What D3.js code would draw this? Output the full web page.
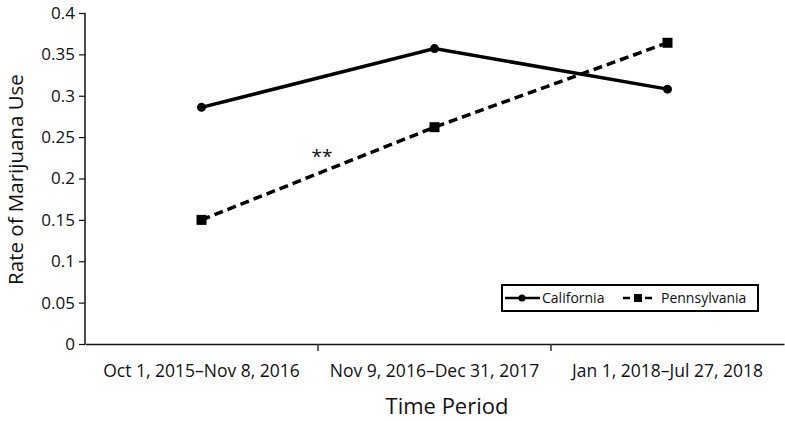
<!DOCTYPE html>
<html>
<head>
<meta charset="utf-8">
<script src="https://cdn.jsdelivr.net/npm/d3@7"></script>
<style>
body { margin: 0; background: #fff; }
text { font-family: "Open Sans", "Noto Sans", sans-serif; fill: #111; }
</style>
</head>
<body>
<div class="chart"></div>
<script>
const periods = ['Oct 1, 2015\u2013Nov 8, 2016', 'Nov 9, 2016\u2013Dec 31, 2017', 'Jan 1, 2018\u2013Jul 27, 2018'];
const california = [0.286, 0.357, 0.308];
const pennsylvania = [0.150, 0.262, 0.364];
const yTicks = [0, 0.05, 0.1, 0.15, 0.2, 0.25, 0.3, 0.35, 0.4];

const width = 785;
const height = 421;
const margin = {left: 85, right: 1, top: 13, bottom: 77};

const svg = d3.select('.chart')
	.append('svg')
	.attr('width', width)
	.attr('height', height);

const x = d3.scaleBand()
	.domain(periods)
	.range([margin.left, width - margin.right]);

const y = d3.scaleLinear()
	.domain([0, 0.4])
	.range([height - margin.bottom, margin.top]);

// axes
const xAxis = svg.append('g')
	.attr('transform', 'translate(0,' + y(0) + ')')
	.call(d3.axisBottom(x).tickSize(0).tickPadding(21));
xAxis.select('.domain').attr('stroke', '#111').attr('stroke-width', 1.5);
xAxis.selectAll('text').attr('font-size', '17.5px');

// tick marks between categories
svg.selectAll('.xtick')
	.data(periods.slice(0, -1))
	.enter()
	.append('line')
	.attr('class', 'xtick')
	.attr('x1', d => x(d) + x.bandwidth())
	.attr('x2', d => x(d) + x.bandwidth())
	.attr('y1', y(0))
	.attr('y2', y(0) + 7)
	.attr('stroke', '#333')
	.attr('stroke-width', 1.5);

const yAxis = svg.append('g')
	.attr('transform', 'translate(' + margin.left + ',0)')
	.call(d3.axisLeft(y).tickValues(yTicks).tickSize(6).tickPadding(4).tickFormat(d => d3.format('')(+d.toFixed(2))));
yAxis.select('.domain').attr('stroke', '#111').attr('stroke-width', 1.5).attr('d', 'M0,' + y(0.4) + 'V' + y(0));
yAxis.selectAll('.tick line').attr('stroke', '#111').attr('stroke-width', 1.2);
yAxis.selectAll('text').attr('font-size', '17px');

svg.append('text')
	.attr('x', 447)
	.attr('y', 414)
	.attr('text-anchor', 'middle')
	.attr('font-size', '22px')
	.text('Time Period');

svg.append('text')
	.attr('transform', 'translate(23,' + (y(0.2) + 1) + ') rotate(-90)')
	.attr('text-anchor', 'middle')
	.attr('font-size', '20.5px')
	.text('Rate of Marijuana Use');

// lines
const cx = (d, i) => x(periods[i]) + x.bandwidth() / 2;
const line = d3.line().x(cx).y(d => y(d));

svg.append('path')
	.datum(california)
	.attr('d', line)
	.attr('fill', 'none')
	.attr('stroke', '#000')
	.attr('stroke-width', 3.5);

svg.append('path')
	.datum(pennsylvania)
	.attr('d', line)
	.attr('fill', 'none')
	.attr('stroke', '#000')
	.attr('stroke-width', 3.5)
	.attr('stroke-dasharray', '9,5');

svg.selectAll('.ca')
	.data(california)
	.enter()
	.append('circle')
	.attr('class', 'ca')
	.attr('cx', cx)
	.attr('cy', d => y(d))
	.attr('r', 4.5)
	.attr('fill', '#000');

svg.selectAll('.pa')
	.data(pennsylvania)
	.enter()
	.append('rect')
	.attr('class', 'pa')
	.attr('x', (d, i) => cx(d, i) - 5)
	.attr('y', d => y(d) - 5)
	.attr('width', 10)
	.attr('height', 10)
	.attr('fill', '#000');

svg.append('text')
	.attr('x', 322)
	.attr('y', 163)
	.attr('text-anchor', 'middle')
	.attr('font-size', '19px')
	.text('**');

// legend
const lg = svg.append('g').attr('transform', 'translate(502,285)');
lg.append('rect')
	.attr('width', 256)
	.attr('height', 26)
	.attr('fill', '#fff')
	.attr('stroke', '#000')
	.attr('stroke-width', 2);
lg.append('line')
	.attr('x1', 3).attr('x2', 38).attr('y1', 13).attr('y2', 13)
	.attr('stroke', '#000').attr('stroke-width', 2.5);
lg.append('circle')
	.attr('cx', 20).attr('cy', 13).attr('r', 3.5).attr('fill', '#000');
lg.append('text')
	.attr('x', 40).attr('y', 18)
	.attr('font-size', '14px')
	.text('California');
lg.append('line')
	.attr('x1', 121).attr('x2', 154).attr('y1', 13).attr('y2', 13)
	.attr('stroke', '#000').attr('stroke-width', 2.5)
	.attr('stroke-dasharray', '7,4');
lg.append('rect')
	.attr('x', 132).attr('y', 9).attr('width', 8).attr('height', 8).attr('fill', '#000');
lg.append('text')
	.attr('x', 159).attr('y', 18)
	.attr('font-size', '14px')
	.text('Pennsylvania');
</script>
</body>
</html>
